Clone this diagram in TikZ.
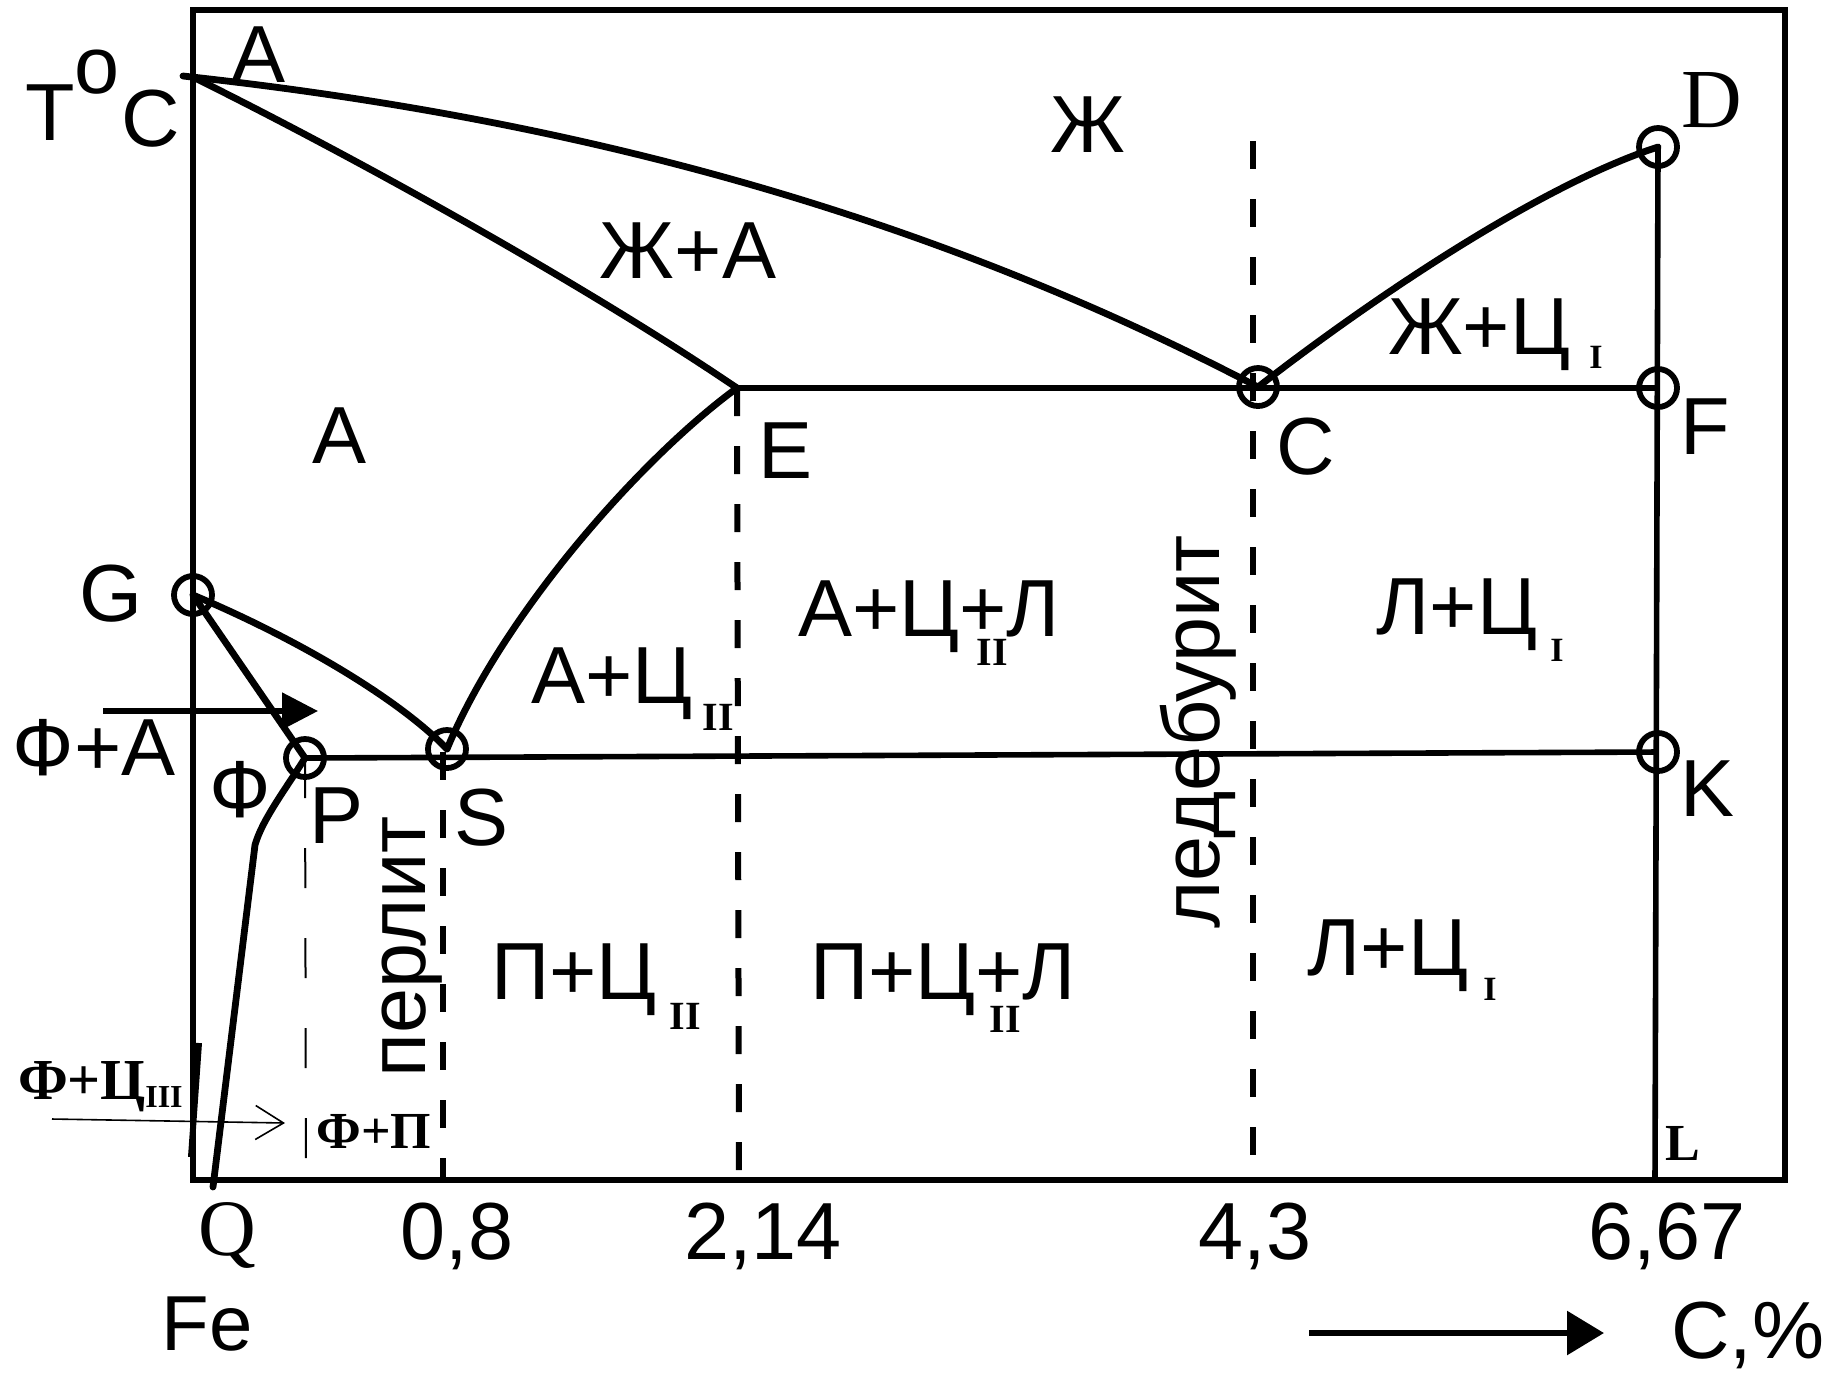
\documentclass[tikz,border=0pt]{standalone}
\usepackage{fontspec}
\setmainfont{Liberation Sans}
\newfontfamily\tnr{Liberation Serif}
\usetikzlibrary{arrows.meta}
\newcommand\bigf{\fontsize{40.5}{48}\selectfont}
\newcommand\subII{\tnr\bfseries\fontsize{20}{24}\selectfont}
\newcommand\subI{\tnr\bfseries\fontsize{17}{20}\selectfont}
\newcommand\smallbf{\tnr\bfseries\fontsize{26}{30}\selectfont}
\begin{document}
\begin{tikzpicture}[x=0.5pt,y=-0.5pt,
  lab/.style={font=\bigf, inner sep=0pt, anchor=base},
  sublab/.style={font=\subII, inner sep=0pt},
  subone/.style={font=\subI, inner sep=0pt},
  bflab/.style={font=\smallbf, inner sep=0pt, anchor=base},
  ring/.style={circle, draw, line width=2.9pt, minimum size=19pt, inner sep=0pt, fill=none},
  curve/.style={line width=3.4pt, line cap=round, line join=round},
  iso/.style={line width=2.8pt},
  dashline/.style={line width=3pt, dash pattern=on 14pt off 15pt},
  thindash/.style={line width=1pt, dash pattern=on 20pt off 25pt}]
\useasboundingbox (0,0) rectangle (1836,1373);
\fill[white] (0,0) rectangle (1836,1373);

% key points
\coordinate (A0) at (183,76);
\coordinate (A) at (195,78);
\coordinate (C) at (1258,387);
\coordinate (E) at (737,388);
\coordinate (F) at (1658,388);
\coordinate (D) at (1658,147);
\coordinate (G) at (193,595);
\coordinate (P) at (305,758);
\coordinate (S) at (447,749);
\coordinate (K) at (1658,752);
\coordinate (L) at (1655,1180);
\coordinate (Q) at (213,1187);
\coordinate (Pq) at (255,845);
\coordinate (Ctop) at (1253,141);
\coordinate (Cbot) at (1253,1180);
\coordinate (Ebot) at (739,1180);
\coordinate (Stop) at (443,752);
\coordinate (Sbot) at (443,1180);
\coordinate (Pbot) at (306,1180);

% frame
\draw[line width=3pt] (193,10) rectangle (1785,1180);
\draw[line width=3pt] (199,1043) -- (191,1157);

% dashed verticals
\draw[dashline] (Ctop) -- (Cbot);
\draw[dashline] (E) -- (Ebot);
\draw[dashline] (Stop) -- (Sbot);
\draw[thindash] (P) -- (Pbot);

% lines
\draw[curve] (A0) .. controls (540,115) and (900,200) .. (C);
\draw[curve] (A) .. controls (380,170) and (600,295) .. (E);
\draw[curve] (E) .. controls (645,455) and (505,610) .. (S);
\draw[curve] (G) .. controls (300,640) and (400,700) .. (S);
\draw[curve] (G) -- (P);
\draw[curve] (P) .. controls (285,790) and (262,820) .. (Pq) -- (Q);
\draw[curve] (C) .. controls (1370,300) and (1540,185) .. (D);
\draw[iso] (E) -- (F);
\draw[iso] (P) -- (K);
\draw[iso] (D) -- (L);

% rings
\node[ring] (Gr) at (G) {};
\node[ring] (Pr) at (P) {};
\node[ring] (Sr) at (S) {};
\node[ring] (Cr) at (C) {};
\node[ring] (Dr) at (D) {};
\node[ring] (Fr) at (F) {};
\node[ring] (Kr) at (K) {};

% arrows
\coordinate (fa1) at (103,711);
\coordinate (fa2) at (318,711);
\draw[line width=2.6pt, -{Triangle[length=18pt,width=18pt]}] (fa1) -- (fa2);
\coordinate (fc1) at (52,1119);
\coordinate (fc2) at (285,1123);
\draw[line width=0.8pt, -{Straight Barb[length=14pt,width=17pt,line width=0.8pt]}] (fc1) -- (fc2);
\coordinate (cp1) at (1309,1333);
\coordinate (cp2) at (1604,1333);
\draw[line width=3pt, -{Triangle[length=18.5pt,width=21.5pt]}] (cp1) -- (cp2);

% labels
\node[lab] (tT) at (50,140) {T};
\node[font=\bigf, inner sep=0pt] (to) at (97,72) {o};
\node[lab] (tC0) at (151,146) {C};
\node[lab] (tA) at (259,82) {A};
\node[lab] (tZh) at (1088,152) {Ж};
\node[lab] (tZhA) at (688,278) {Ж+А};
\node[font=\tnr\fontsize{42}{48}\selectfont, inner sep=0pt, anchor=base] (tD) at (1712,127) {D};
\node[lab] (tZhC) at (1479,354) {Ж+Ц};
\node[subone] (sZhC) at (1596,357) {I};
\node[lab] (tAreg) at (340,463) {А};
\node[lab] (tE) at (786,478) {E};
\node[lab] (tC) at (1306,474) {C};
\node[lab] (tF) at (1705,454) {F};
\node[lab] (tG) at (111,621) {G};
\node[lab] (tACL) at (929,636) {А+Ц+Л};
\node[sublab] (sACL) at (992,652) {II};
\node[lab] (tLC1) at (1457,634) {Л+Ц};
\node[subone] (sLC1) at (1557,650) {I};
\node[lab] (tAC) at (612,703) {А+Ц};
\node[sublab] (sAC) at (718,717) {II};
\node[lab] (tFA) at (94,775) {Ф+А};
\node[font=\bigf, inner sep=0pt] (tPhi) at (240,790) {Ф};
\node[lab] (tP) at (337,843) {P};
\node[lab] (tS) at (482,845) {S};
\node[lab] (tK) at (1707,816) {K};
\node[font=\bigf, inner sep=0pt, rotate=90] (tperl) at (412,947) {перлит};
\node[font=\bigf, inner sep=0pt, rotate=90] (tled) at (1198,732) {ледебурит};
\node[lab] (tPC) at (574,999) {П+Ц};
\node[sublab] (sPC) at (685,1016) {II};
\node[lab] (tPCL) at (943,999) {П+Ц+Л};
\node[sublab] (sPCL) at (1005,1019) {II};
\node[lab] (tLC2) at (1388,975) {Л+Ц};
\node[subone] (sLC2) at (1490,989) {I};
\node[font=\tnr\bfseries\fontsize{29}{34}\selectfont, inner sep=0pt, anchor=base] (tFC) at (82,1099) {Ф+Ц};
\node[font=\tnr\bfseries\fontsize{16}{18}\selectfont, inner sep=0pt] (sFC) at (164,1097) {III};
\node[bflab] (tFP) at (374,1148) {Ф+П};
\node[bflab] (tL) at (1683,1160) {L};
\node[font=\tnr\fontsize{40}{46}\selectfont, inner sep=0pt, anchor=base] (tQ) at (227,1255) {Q};
\node[lab] (t08) at (457,1259) {0,8};
\node[lab] (t214) at (763,1259) {2,14};
\node[lab] (t43) at (1255,1259) {4,3};
\node[lab] (t667) at (1667,1259) {6,67};
\node[font=\fontsize{39}{44}\selectfont, inner sep=0pt, anchor=base] (tFe) at (207,1350) {Fe};
\node[lab] (tCp) at (1748,1358) {C,\%};
\end{tikzpicture}
\end{document}
